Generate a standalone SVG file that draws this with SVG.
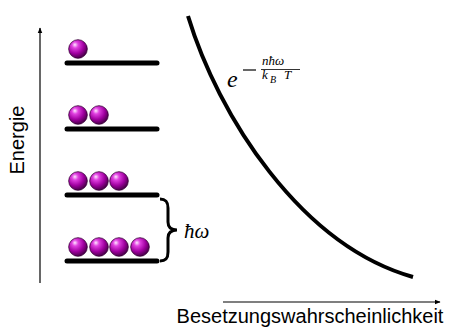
<svg xmlns="http://www.w3.org/2000/svg" width="457" height="331" viewBox="0 0 457 331">
<style>
.level{stroke:#000;stroke-width:5;stroke-linecap:round;fill:none}
.axis{stroke:#000;stroke-width:1.2;fill:none}
.lbl{font-family:"Liberation Sans",Arial,sans-serif;font-size:20px;fill:#000}
.math{font-family:"Liberation Serif","DejaVu Serif",serif;font-style:italic;fill:#000}
</style>
<defs>
<radialGradient id="ballg" cx="0.38" cy="0.32" r="0.68" fx="0.33" fy="0.27">
<stop offset="0" stop-color="#ffe8ff"/>
<stop offset="0.25" stop-color="#e040e0"/>
<stop offset="0.65" stop-color="#a000a0"/>
<stop offset="1" stop-color="#4a004a"/>
</radialGradient>
<marker id="arr" viewBox="0 0 10 10" refX="9" refY="5" markerWidth="6" markerHeight="6" orient="auto" markerUnits="userSpaceOnUse">
<path d="M0,1 L10,5 L0,9 z" fill="#000"/>
</marker>
<g id="ball"><circle r="9.3" fill="url(#ballg)" stroke="#3a003a" stroke-width="0.8"/></g>
</defs>
<rect width="457" height="331" fill="#fff"/>
<g id="connectors">
<line class="axis" x1="40" y1="283" x2="40" y2="28" marker-end="url(#arr)"/>
<line class="axis" x1="223" y1="302" x2="440" y2="302" marker-end="url(#arr)"/>
<path id="curve" d="M188,16 C218,115 300,245 413,277" stroke="#000" stroke-width="4" fill="none"/>
</g>
<g id="level3">
<line class="level" x1="67" y1="63" x2="157" y2="63"/>
<use href="#ball" x="78" y="49"/>
</g>
<g id="level2">
<line class="level" x1="67" y1="129" x2="157" y2="129"/>
<use href="#ball" x="78" y="115"/>
<use href="#ball" x="99" y="115"/>
</g>
<g id="level1">
<line class="level" x1="67" y1="195" x2="157" y2="195"/>
<use href="#ball" x="78" y="181"/>
<use href="#ball" x="99" y="181"/>
<use href="#ball" x="119" y="181"/>
</g>
<g id="level0">
<line class="level" x1="67" y1="261" x2="157" y2="261"/>
<use href="#ball" x="78" y="247"/>
<use href="#ball" x="99" y="247"/>
<use href="#ball" x="119" y="247"/>
<use href="#ball" x="140" y="247"/>
</g>
<g id="brace">
<path d="M160,199 C166,199 168,202 168,208 L168,222 C168,227 171,230 177,230 C171,230 168,233 168,238 L168,252 C168,258 166,261 160,261" stroke="#000" stroke-width="3" fill="none"/>
<text class="math" x="184" y="238" font-size="21">ħω</text>
</g>
<g id="formula">
<text class="math" x="227" y="87" font-size="24">e</text>
<line x1="243" y1="70" x2="256" y2="70" stroke="#000" stroke-width="1.2"/>
<text class="math" x="262" y="65" font-size="13">nħω</text>
<line x1="261" y1="69.5" x2="300" y2="69.5" stroke="#000" stroke-width="0.8"/>
<text class="math" x="262" y="79" font-size="13">k</text>
<text class="math" x="270" y="83" font-size="10">B</text>
<text class="math" x="284" y="79" font-size="13">T</text>
</g>
<text class="lbl" x="310" y="323" text-anchor="middle">Besetzungswahrscheinlichkeit</text>
<text class="lbl" transform="translate(24,140) rotate(-90)" text-anchor="middle">Energie</text>
</svg>
